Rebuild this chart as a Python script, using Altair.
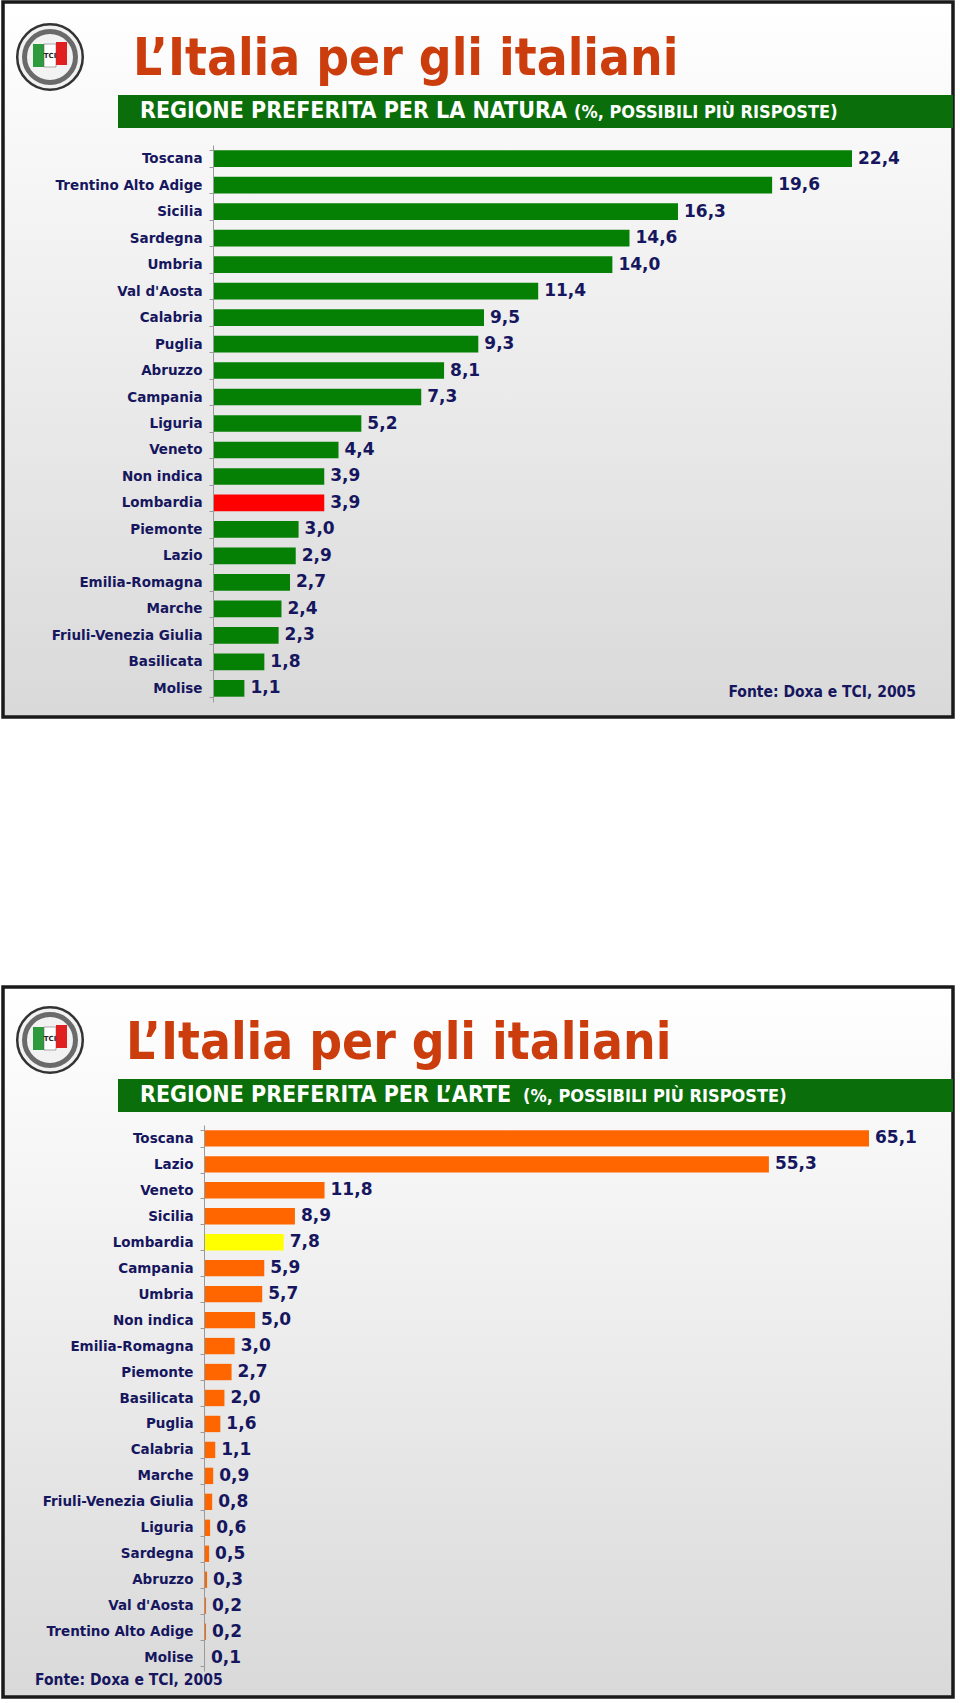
import altair as alt
import pandas as pd

# ---------------- data ----------------
natura_regioni = ["Toscana", "Trentino Alto Adige", "Sicilia", "Sardegna", "Umbria",
                  "Val d'Aosta", "Calabria", "Puglia", "Abruzzo", "Campania", "Liguria",
                  "Veneto", "Non indica", "Lombardia", "Piemonte", "Lazio",
                  "Emilia-Romagna", "Marche", "Friuli-Venezia Giulia", "Basilicata", "Molise"]
natura_valori = [22.4, 19.6, 16.3, 14.6, 14.0, 11.4, 9.5, 9.3, 8.1, 7.3, 5.2,
                 4.4, 3.9, 3.9, 3.0, 2.9, 2.7, 2.4, 2.3, 1.8, 1.1]

arte_regioni = ["Toscana", "Lazio", "Veneto", "Sicilia", "Lombardia", "Campania", "Umbria",
                "Non indica", "Emilia-Romagna", "Piemonte", "Basilicata", "Puglia",
                "Calabria", "Marche", "Friuli-Venezia Giulia", "Liguria", "Sardegna",
                "Abruzzo", "Val d'Aosta", "Trentino Alto Adige", "Molise"]
arte_valori = [65.1, 55.3, 11.8, 8.9, 7.8, 5.9, 5.7, 5.0, 3.0, 2.7, 2.0, 1.6,
               1.1, 0.9, 0.8, 0.6, 0.5, 0.3, 0.2, 0.2, 0.1]

titolo = "L’Italia per gli italiani"
sottotitolo_natura = "REGIONE PREFERITA PER LA NATURA"
sottotitolo_arte = "REGIONE PREFERITA PER L’ARTE"
nota = "(%, POSSIBILI PIÙ RISPOSTE)"
fonte = "Fonte: Doxa e TCI, 2005"

# ---------------- styles ----------------
NAVY = "#16165e"
TITLE_RED = "#cc3d0e"
BAND_GREEN = "#0a6e0a"
FONT = "DejaVu Sans"
COND = "DejaVu Sans Condensed, Liberation Sans Narrow, DejaVu Sans"


def fmt(v):
    return f"{v:.1f}".replace(".", ",")


def make_df(regioni, valori):
    df = pd.DataFrame({"regione": regioni, "valore": valori})
    df["etichetta"] = df["valore"].map(fmt)
    return df


df_n = make_df(natura_regioni, natura_valori)
df_a = make_df(arte_regioni, arte_valori)

one = pd.DataFrame({"k": [0]})


def rect(x, x2, y, y2, **mk):
    return alt.Chart(one).mark_rect(**mk).encode(
        x=alt.value(x), x2=alt.value(x2), y=alt.value(y), y2=alt.value(y2))


def text(s, x, y, **mk):
    return alt.Chart(one).mark_text(text=s, **mk).encode(x=alt.value(x), y=alt.value(y))


def circle(cx, cy, size, **mk):
    return alt.Chart(one).mark_point(shape="circle", size=size, **mk).encode(
        x=alt.value(cx), y=alt.value(cy))


grad = alt.Gradient(
    gradient="linear",
    stops=[alt.GradientStop(color="#ffffff", offset=0),
           alt.GradientStop(color="#d9d9d9", offset=1)],
    x1=0, x2=0, y1=0, y2=1)


def frame_layers(top, bottom, sub, sub_x, nota_x, title_x, band_top, fonte_spec):
    layers = []
    layers.append(rect(3, 953, top, bottom, color=grad))
    layers.append(rect(3, 953, top, bottom, fillOpacity=0, stroke="#1a1a1a", strokeWidth=3.5))
    # logo
    cy = top + (55 if top < 100 else 53)
    layers.append(circle(50, cy, 4300, filled=True, color="#f2f2f2", stroke="#333333",
                         strokeWidth=2.5, opacity=1))
    layers.append(circle(50, cy, 2600, filled=False, color="#6a6a6a", strokeWidth=5, opacity=1))
    layers.append(rect(33, 44, cy - 13, cy + 10, color="#2e9a3e"))
    layers.append(rect(44, 56, cy - 13, cy + 10, color="#ffffff", stroke="#555", strokeWidth=0.5))
    layers.append(rect(56, 67, cy - 15, cy + 8, color="#e02020"))
    layers.append(text("TCI", 50, cy - 1, font=FONT, fontSize=7, fontWeight="bold",
                       color="#222", align="center", baseline="middle"))
    # title
    layers.append(text(titolo, title_x, band_top - 20, font=COND, fontSize=51,
                       fontWeight="bold", color=TITLE_RED, align="left",
                       baseline="alphabetic"))
    # green band
    layers.append(rect(118, 953, band_top, band_top + 33, color=BAND_GREEN))
    layers.append(text(sub, sub_x, band_top + 23, font=COND, fontSize=23, fontWeight="bold",
                       color="white", align="left", baseline="alphabetic"))
    layers.append(text(nota, nota_x, band_top + 23, font=COND, fontSize=18, fontWeight="bold",
                       color="white", align="left", baseline="alphabetic"))
    fx, fy, falign = fonte_spec
    layers.append(text(fonte, fx, fy, font=COND, fontSize=15.5, fontWeight="bold", color=NAVY,
                       align=falign, baseline="alphabetic"))
    return layers


def bars_panel(df, axis_x, x_end, y0, y1, base, hl_name, hl_color, label_size):
    yscale = alt.Scale(domain=list(df["regione"]), range=[y0, y1],
                       paddingInner=0.37, paddingOuter=0.2)
    xscale = alt.Scale(domain=[0, float(df["valore"].max())], range=[axis_x, x_end],
                       nice=False, zero=True)
    y = alt.Y("regione:N", sort=None, scale=yscale,
              axis=alt.Axis(title=None, orient="left", offset=-axis_x, tickBand="extent",
                            labelFont=FONT, labelFontSize=label_size, labelFontWeight="bold",
                            labelColor=NAVY, tickColor="#9a9a9a", domainColor="#9a9a9a",
                            tickSize=4, labelPadding=7, labelLimit=300, grid=False,
                            zindex=1))
    x = alt.X("valore:Q", scale=xscale, axis=None)
    base_chart = alt.Chart(df)
    bars = base_chart.mark_bar(cornerRadius=0).encode(
        x=x, y=y,
        color=alt.condition(alt.datum.regione == hl_name, alt.value(hl_color), alt.value(base)))
    labels = base_chart.mark_text(align="left", baseline="middle", dx=6, font=FONT,
                                  fontSize=17, fontWeight="bold", color=NAVY).encode(
        x=x, y=y, text="etichetta:N")
    return alt.layer(bars, labels)


deco = []
deco += frame_layers(2, 717, sottotitolo_natura, 140, 574, 133, 95, (916, 697, "right"))
deco += frame_layers(987, 1697, sottotitolo_arte, 140, 523, 126, 1079, (35, 1685, "left"))

top_panel = bars_panel(df_n, 213, 852, 145, 702, "#058005", "Lombardia", "#ff0000", 13.5)
bottom_panel = bars_panel(df_a, 204, 869, 1125, 1671, "#ff6600", "Lombardia", "#ffff00", 13.5)

chart = alt.layer(*deco, top_panel, bottom_panel).resolve_scale(
    x="independent", y="independent"
).properties(
    width=960, height=1703, autosize=alt.AutoSizeParams(type="none"), padding=0,
    background="white"
).configure_view(stroke=None)

chart.save("out.html", embed_options={"renderer": "svg", "actions": False})
